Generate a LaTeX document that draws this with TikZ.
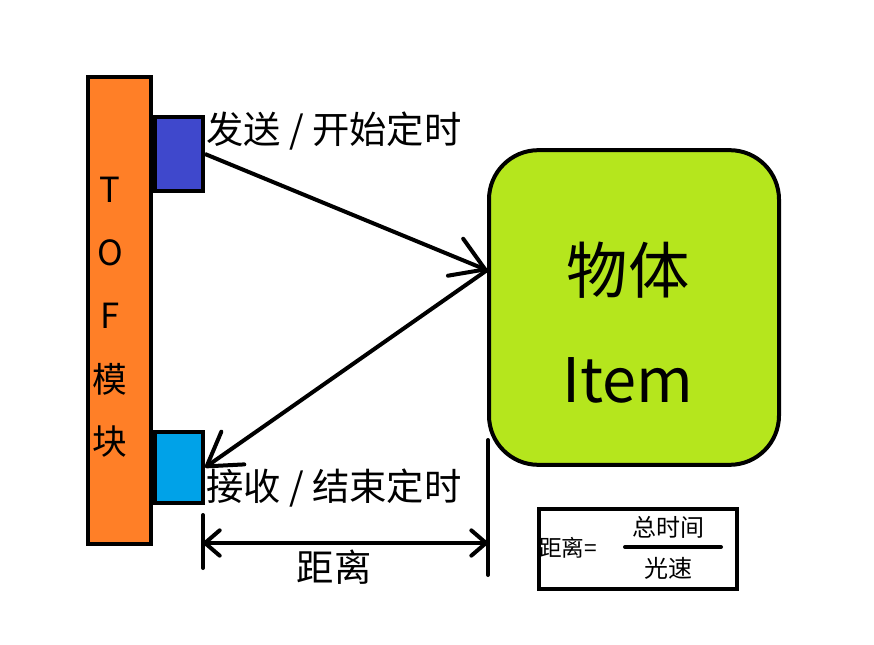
\documentclass[tikz,border=0pt]{standalone}
\usepackage{fontspec}
\setmainfont{Noto Sans CJK SC}
\usetikzlibrary{arrows.meta}
\definecolor{tofOrange}{RGB}{255,127,39}
\definecolor{txBlue}{RGB}{63,72,204}
\definecolor{rxCyan}{RGB}{0,162,232}
\definecolor{objGreen}{RGB}{181,230,29}
\tikzset{
  blk/.style={draw=black, line width=3pt, inner sep=0pt},
  lbl/.style={inner sep=0.75pt, font=\fontsize{28pt}{33pt}\selectfont},
  big/.style={inner sep=0.75pt, font=\fontsize{46pt}{54pt}\selectfont},
  small/.style={inner sep=0.75pt, font=\fontsize{17pt}{20pt}\selectfont},
  ray/.style={line width=3pt, -{Straight Barb[length=24pt,width=30pt,round]}},
  dim/.style={line width=3pt, {Straight Barb[length=11pt,width=19pt,round]}-{Straight Barb[length=11pt,width=19pt,round]}},
}
\begin{document}
\begin{tikzpicture}[x=0.75pt,y=0.75pt,yscale=-1,xscale=1]
\useasboundingbox (0,0) rectangle (874,645); %set diagram size 874 x 645

% ToF module
\node[blk, fill=tofOrange, minimum width=47.25pt, minimum height=350pt] (tof) at (119.5,310.5) {};
\foreach \ch [count=\i from 0] in {T,O,F,模,块}
  \node[lbl, font=\fontsize{26pt}{30pt}\selectfont] (tof\i) at (110,190+63*\i) {\ch};
% sender / receiver
\node[blk, fill=txBlue, minimum width=36pt, minimum height=55.5pt] (tx) at (179,154) {};
\node[blk, fill=rxCyan, minimum width=36pt, minimum height=53.25pt] (rx) at (179,467.5) {};
% object
\node[blk, fill=objGreen, rounded corners=37pt, minimum width=217.5pt, minimum height=236pt] (obj) at (634,307.5) {};
\node[big] (objcn) at (628,270) {物体};
\node[big, anchor=base] (objen) at (628,402) {Item};

% Text Node
\node[lbl, anchor=west] (txlbl) at (205,131) {发送 / 开始定时};
% Text Node
\node[lbl, anchor=west] (rxlbl) at (205,488) {接收 / 结束定时};

%Straight Lines
\coordinate (hit) at ([yshift=-28pt]obj.west);
\draw[ray] (tx.east) -- (hit);
\draw[ray] (hit) -- (rx.east);

% distance
\coordinate (dlTop) at (203,515);
\coordinate (dlBot) at (203,568);
\coordinate (drTop) at (488,440);
\coordinate (drBot) at (488,575);
\coordinate (dl) at (203,543);
\coordinate (dr) at (488,543);
\draw[line width=3pt, line cap=round] (dlTop) -- (dlBot);
\draw[line width=3pt, line cap=round] (drTop) -- (drBot);
\draw[dim] (dl) -- (dr);
\node[lbl] (dist) at (334,567) {距离};

% formula
\node[blk, minimum width=148.5pt, minimum height=60pt] (fbox) at (638,549) {};
\node[small, anchor=west] (feq) at (538,548) {距离=};
\node[small, font=\fontsize{18pt}{21pt}\selectfont] (fnum) at (668,527) {总时间};
\node[small, font=\fontsize{18pt}{21pt}\selectfont] (fden) at (668,568) {光速};
\coordinate (barL) at (625,547);
\coordinate (barR) at (721,547);
\draw[line width=3pt, line cap=round] (barL) -- (barR);

\end{tikzpicture}
\end{document}
